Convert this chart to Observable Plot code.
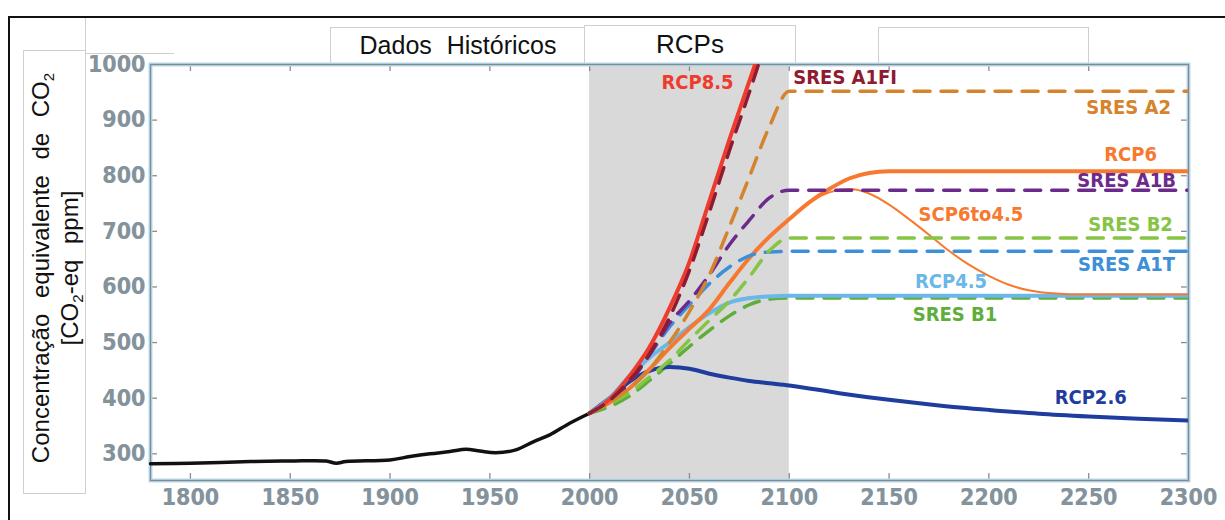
<!DOCTYPE html>
<html>
<head>
<meta charset="utf-8">
<script src="https://cdn.jsdelivr.net/npm/d3@7"></script>
<script src="https://cdn.jsdelivr.net/npm/@observablehq/plot@0.6"></script>
<style>
  body { margin: 0; background: #fff; }
  #wrap { position: relative; width: 1225px; height: 520px; overflow: hidden; background: #fff;
          font-family: "Liberation Sans", Arial, sans-serif; }
  #outer { position: absolute; left: 8px; top: 16px; width: 1300px; height: 600px;
           border: 2px solid #111; box-sizing: border-box; }
  .box { position: absolute; background: #fff; border: 1px solid #cfcfcf; box-sizing: border-box; }
  .hdr { display: flex; align-items: center; justify-content: center; color: #111; }
  #ytitle { position: absolute; left: 58px; top: 268px; width: 480px; height: 64px;
            transform: translate(-50%, -50%) rotate(-90deg); text-align: center;
            font-size: 24px; line-height: 29px; color: #111; word-spacing: 9px; white-space: nowrap; }
  #ytitle sub { font-size: 15px; vertical-align: -5px; line-height: 0; word-spacing: 0; }
  #chart { position: absolute; left: 0; top: 0; }
</style>
</head>
<body>
<div id="wrap">
  <div id="outer"></div>
  <div class="box" style="left:85px;top:18px;width:89px;height:36px;border-top:none;border-right:none;"></div>
  <div class="box" style="left:23px;top:50px;width:63px;height:444px;"></div>
  <div class="box hdr" style="left:330px;top:27px;width:256px;height:37px;font-size:25px;word-spacing:8px;">Dados Históricos</div>
  <div class="box hdr" style="left:584px;top:25px;width:212px;height:39px;font-size:26px;">RCPs</div>
  <div class="box" style="left:878px;top:27px;width:211px;height:37px;"></div>
  <div id="ytitle">Concentração equivalente de CO<sub>2</sub><br>[CO<sub>2</sub>-eq ppm]</div>
  <div id="chart"></div>
</div>
<script>
// Axis ticks
const xTicks = [1800, 1850, 1900, 1950, 2000, 2050, 2100, 2150, 2200, 2250, 2300];
const yTicks = [300, 400, 500, 600, 700, 800, 900, 1000];

// Shaded projection period (RCP era)
const rcpPeriod = [{start: 2000, end: 2100}];

// Historical CO2-equivalent concentration [year, ppm]
const historical = [
  [1780, 282], [1800, 283], [1830, 286], [1850, 287], [1868, 287], [1873, 283], [1878, 286],
  [1900, 289], [1910, 295], [1920, 300], [1930, 304], [1938, 308], [1945, 305], [1953, 302],
  [1963, 307], [1972, 322], [1980, 334], [1990, 355], [2000, 373]
];

// RCP pathways [year, ppm]
const rcp85 = [
  [2000, 373], [2010, 398], [2020, 440], [2030, 492], [2040, 562], [2050, 645],
  [2060, 755], [2070, 865], [2080, 970], [2090, 1075]
];
const rcp6 = [
  [2000, 373], [2010, 392], [2020, 418], [2030, 452], [2040, 490], [2050, 525], [2060, 560],
  [2070, 607], [2080, 652], [2090, 690], [2100, 722], [2110, 752], [2120, 776], [2130, 795],
  [2140, 805], [2150, 808], [2300, 808]
];
const scp6to45 = [
  [2000, 373], [2010, 392], [2020, 418], [2030, 452], [2040, 490], [2050, 525], [2060, 560],
  [2070, 607], [2080, 652], [2090, 690], [2100, 722], [2110, 752], [2120, 770], [2130, 776],
  [2140, 768], [2150, 748], [2160, 722], [2170, 694], [2180, 665], [2190, 640], [2200, 620],
  [2210, 604], [2220, 594], [2230, 589], [2240, 587], [2300, 587]
];
const rcp45 = [
  [2000, 373], [2010, 400], [2020, 440], [2030, 473], [2040, 500], [2050, 528], [2060, 553],
  [2070, 572], [2080, 580], [2090, 583], [2100, 584], [2300, 584]
];
const rcp26 = [
  [2000, 373], [2010, 400], [2020, 430], [2030, 449], [2040, 456], [2050, 453], [2060, 444],
  [2070, 437], [2080, 431], [2090, 427], [2100, 423], [2125, 409], [2150, 397], [2175, 387],
  [2200, 379], [2225, 372], [2250, 367], [2275, 363], [2300, 360]
];

// SRES scenarios [year, ppm]
const sresA1FI = [
  [2000, 373], [2010, 396], [2020, 432], [2030, 480], [2040, 545], [2050, 630],
  [2060, 735], [2070, 845], [2080, 950], [2090, 1060]
];
const sresA2 = [
  [2000, 373], [2010, 392], [2020, 418], [2030, 452], [2040, 500], [2050, 556],
  [2060, 622], [2070, 708], [2080, 798], [2090, 888], [2100, 952], [2300, 952]
];
const sresA1B = [
  [2000, 373], [2010, 394], [2020, 428], [2030, 478], [2040, 535], [2050, 575],
  [2060, 622], [2070, 676], [2080, 720], [2090, 760], [2100, 774], [2300, 774]
];
const sresB2 = [
  [2000, 373], [2010, 390], [2020, 410], [2030, 438], [2040, 468], [2050, 505],
  [2060, 540], [2070, 575], [2080, 618], [2090, 665], [2100, 688], [2300, 688]
];
const sresA1T = [
  [2000, 373], [2010, 396], [2020, 430], [2030, 478], [2040, 528], [2050, 568],
  [2060, 606], [2070, 636], [2080, 656], [2090, 663], [2100, 664], [2300, 664]
];
const sresB1 = [
  [2000, 373], [2010, 385], [2020, 404], [2030, 432], [2040, 462], [2050, 493],
  [2060, 522], [2070, 548], [2080, 568], [2090, 578], [2100, 580], [2300, 580]
];

// Series names and where their labels sit [label, year, ppm]
const labels = [
  ["RCP8.5", 2054, 967], ["SRES A1FI", 2128, 976], ["SRES A2", 2270, 922],
  ["RCP6", 2271, 838], ["SRES A1B", 2269, 792], ["SCP6to4.5", 2191, 731],
  ["SRES B2", 2271, 713], ["SRES A1T", 2269, 641], ["RCP4.5", 2181, 610],
  ["SRES B1", 2183, 550], ["RCP2.6", 2251, 401]
];

const colors = {
  "RCP8.5": "#ee3b2e", "SRES A1FI": "#8e1b30", "SRES A2": "#d5832c", "RCP6": "#f7792f",
  "SRES A1B": "#6b2a8c", "SCP6to4.5": "#f7792f", "SRES B2": "#86c444", "SRES A1T": "#3d8fd8",
  "RCP4.5": "#6bb7e8", "SRES B1": "#5fae3a", "RCP2.6": "#1f3d9e"
};

const W = 1225, H = 520, mL = 150, mR = 37, mT = 64, mB = 40;
const frameW = W - mL - mR, frameH = H - mT - mB;
const tickLen = 7;
const narrowFont = "'Liberation Sans Narrow', 'DejaVu Sans Condensed', 'Liberation Sans', sans-serif";

const solid = (data, name, width = 4) => Plot.line(data, {
  x: d => d[0], y: d => d[1], stroke: colors[name], strokeWidth: width,
  curve: "monotone-x", clip: true
});
const dashed = (data, name) => Plot.line(data, {
  x: d => d[0], y: d => d[1], stroke: colors[name], strokeWidth: 3.5,
  strokeDasharray: "16,11", curve: "monotone-x", clip: true
});

const tickText = {
  tickSize: 0, tickFormat: d => `${d}`, fontSize: 23, fontWeight: "bold", fontFamily: narrowFont
};

const chart = Plot.plot({
  width: W, height: H,
  marginLeft: mL, marginRight: mR, marginTop: mT, marginBottom: mB,
  style: {background: "transparent", overflow: "visible"},
  x: {domain: [1780, 2300]},
  y: {domain: [252, 1000]},
  marks: [
    Plot.rect(rcpPeriod, {x1: "start", x2: "end", fill: "#d9d9d9"}),
    // inward ticks on all four sides
    Plot.ruleX(xTicks, {x: d => d, insetTop: frameH - tickLen, stroke: "#8a8a8a", strokeWidth: 1.3}),
    Plot.ruleX(xTicks, {x: d => d, insetBottom: frameH - tickLen, stroke: "#8a8a8a", strokeWidth: 1.3}),
    Plot.ruleY(yTicks, {y: d => d, insetRight: frameW - tickLen, stroke: "#8a8a8a", strokeWidth: 1.3}),
    Plot.ruleY(yTicks, {y: d => d, insetLeft: frameW - tickLen, stroke: "#8a8a8a", strokeWidth: 1.3}),
    Plot.frame({stroke: "#b9d9ea", strokeWidth: 4}),
    Plot.frame({stroke: "#7d8b95", strokeWidth: 1.3}),

    Plot.line(historical, {x: d => d[0], y: d => d[1], stroke: "#111", strokeWidth: 3.5, curve: "catmull-rom"}),

    dashed(sresB1, "SRES B1"),
    solid(rcp26, "RCP2.6"),
    solid(rcp45, "RCP4.5"),
    solid(scp6to45, "SCP6to4.5", 2),
    solid(rcp6, "RCP6"),
    solid(rcp85, "RCP8.5"),
    dashed(sresA1T, "SRES A1T"),
    dashed(sresB2, "SRES B2"),
    dashed(sresA1B, "SRES A1B"),
    dashed(sresA2, "SRES A2"),
    dashed(sresA1FI, "SRES A1FI"),

    Plot.text(labels, {
      x: d => d[1], y: d => d[2], text: d => d[0], fill: d => colors[d[0]],
      fontSize: 20, fontWeight: "bold", fontFamily: narrowFont, textAnchor: "middle"
    }),

    // tick labels: a soft blue halo under an outlined grey glyph
    Plot.axisX(xTicks, {...tickText, tickPadding: 8, fill: "#b7dcef", stroke: "#b7dcef", strokeWidth: 5}),
    Plot.axisX(xTicks, {...tickText, tickPadding: 8, fill: "#86929a", stroke: "#1f272d", strokeWidth: 1.4}),
    Plot.axisY(yTicks, {...tickText, tickPadding: 5, fill: "#b7dcef", stroke: "#b7dcef", strokeWidth: 5}),
    Plot.axisY(yTicks, {...tickText, tickPadding: 5, fill: "#86929a", stroke: "#1f272d", strokeWidth: 1.4})
  ]
});

document.getElementById("chart").appendChild(chart);
</script>
</body>
</html>
